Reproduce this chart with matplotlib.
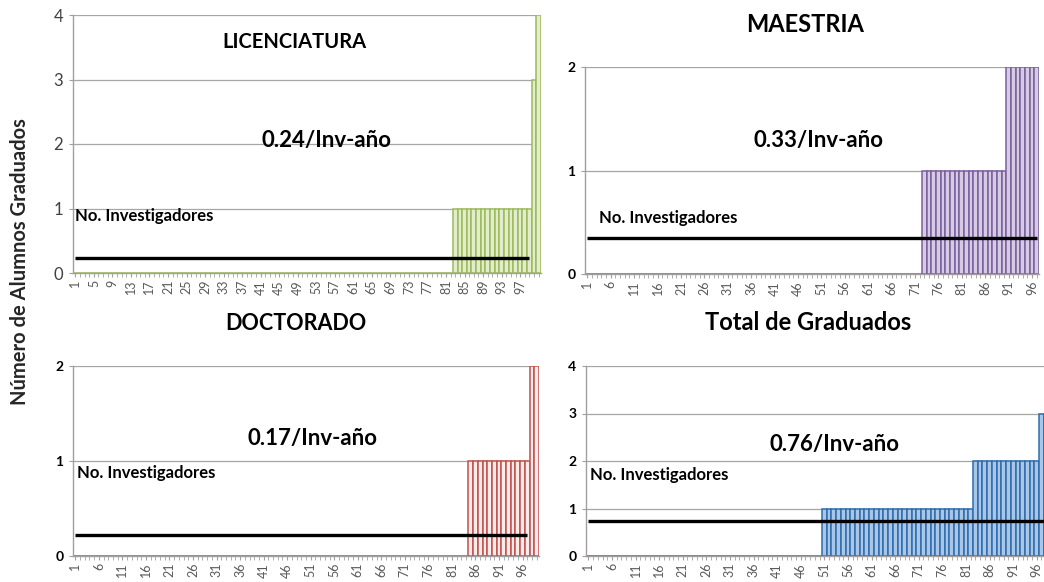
import matplotlib
matplotlib.use("Agg")
import matplotlib.pyplot as plt
import numpy as np

plt.rcParams['font.family'] = ['Lato', 'DejaVu Sans']

# datos (valor por categoria)
lic_cats = list(range(1, 102))
lic_vals = [0] * 82 + [1] * 17 + [3, 4]
lic_inv = [0.24] * 99 + [np.nan] * 2
lic_ticks = list(range(1, 98, 4))

mae_cats = list(range(1, 98))
mae_vals = [0] * 72 + [1] * 18 + [2] * 7
mae_inv = [0.35] * 97
mae_ticks = list(range(1, 97, 5))

doc_cats = list(range(1, 100))
doc_vals = [0] * 84 + [1] * 13 + [2] * 2
doc_inv = [0.22] * 97 + [np.nan] * 2
doc_ticks = list(range(1, 97, 5))

tot_cats = list(range(1, 101))
tot_vals = [0] * 50 + [1] * 32 + [2] * 14 + [3] * 4
tot_inv = [0.74] * 100
tot_ticks = list(range(1, 97, 5))

W, H = 1044, 582
fig = plt.figure(figsize=(W / 100, H / 100), dpi=100)


def px_axes(left, right, top, bottom):
    return fig.add_axes([left / W, 1 - bottom / H, (right - left) / W, (bottom - top) / H])


def panel(ax, cats, vals, inv, ticks, ymax, edge, face, ytick_style):
    ax.bar(cats, vals, width=1.0, color=face, edgecolor=edge, linewidth=1.1, zorder=2)
    ax.plot(cats, inv, color='black', lw=2.4, zorder=3, solid_capstyle='butt')
    ax.set_xlim(0.5, len(cats) + 0.5)
    ax.set_ylim(0, ymax)
    ax.set_yticks(range(0, ymax + 1))
    ax.set_xticks(cats, minor=True)
    ax.set_xticks(ticks)
    ax.set_xticklabels([str(t) for t in ticks], rotation=90, fontsize=9, color='#595959')
    ax.tick_params(axis='x', which='both', length=3, color='#A0A0A0', pad=2)
    ax.tick_params(axis='y', length=3, color='#A0A0A0', pad=4)
    if ytick_style == 'regular':
        ax.tick_params(axis='y', labelsize=12, labelcolor='#404040')
    else:
        ax.tick_params(axis='y', labelsize=10, labelcolor='black')
        for lb in ax.get_yticklabels():
            lb.set_fontweight('bold')
    ax.grid(axis='y', color='#A6A6A6', lw=0.9, zorder=0)
    for s in ['top', 'right']:
        ax.spines[s].set_visible(False)
    for s in ['left', 'bottom']:
        ax.spines[s].set_color('#A0A0A0')
        ax.spines[s].set_linewidth(1.0)


ax1 = px_axes(73, 541, 15, 273)
panel(ax1, lic_cats, lic_vals, lic_inv, lic_ticks, 4, '#9BBB59', '#E3ECCD', 'regular')

ax2 = px_axes(585, 1039, 67, 274)
panel(ax2, mae_cats, mae_vals, mae_inv, mae_ticks, 2, '#7B5FA0', '#D5CBE3', 'bold')

ax3 = px_axes(73, 539, 366, 556)
panel(ax3, doc_cats, doc_vals, doc_inv, doc_ticks, 2, '#C0504D', '#FBECEC', 'bold')

ax4 = px_axes(586, 1058, 366, 556)
panel(ax4, tot_cats, tot_vals, tot_inv, tot_ticks, 4, '#2F6DAE', '#A9C6E6', 'bold')


def ftext(x, y, s, size, ha='center'):
    fig.text(x / W, 1 - y / H, s, fontsize=size, fontweight='bold', ha=ha, va='center', color='black')


ftext(294, 42, 'LICENCIATURA', 14.5)
ftext(327, 141, '0.24/Inv-año', 16)
ftext(75, 216, 'No. Investigadores', 12, ha='left')

ftext(805, 25, 'MAESTRIA', 17)
ftext(819, 140, '0.33/Inv-año', 16)
ftext(599, 218, 'No. Investigadores', 12, ha='left')

ftext(296, 323, 'DOCTORADO', 15.5)
ftext(312, 438, '0.17/Inv-año', 16)
ftext(77, 473, 'No. Investigadores', 12, ha='left')

ftext(808, 323, 'Total de Graduados', 17)
ftext(834, 445, '0.76/Inv-año', 16)
ftext(590, 475, 'No. Investigadores', 12, ha='left')

fig.text(20 / W, 1 - 262 / H, 'Número de Alumnos Graduados', rotation=90, fontsize=14.5,
         fontweight='bold', ha='center', va='center', color='#262626')

fig.savefig('out.png', dpi=100)
